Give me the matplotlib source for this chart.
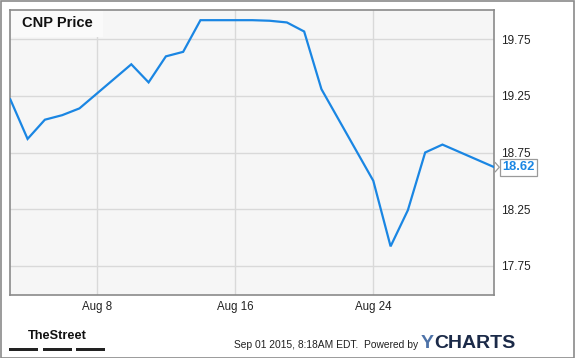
import matplotlib
matplotlib.use("Agg")
import matplotlib.pyplot as plt
import matplotlib.dates as mdates
import numpy as np
from matplotlib.patches import Rectangle

plt.rcParams["font.family"] = ["Liberation Sans", "DejaVu Sans"]

# CNP closing prices, Aug 2015
dates = ["2015-08-03", "2015-08-04", "2015-08-05", "2015-08-06", "2015-08-07",
         "2015-08-10", "2015-08-11", "2015-08-12", "2015-08-13", "2015-08-14",
         "2015-08-17", "2015-08-18", "2015-08-19", "2015-08-20", "2015-08-21",
         "2015-08-24", "2015-08-25", "2015-08-26", "2015-08-27", "2015-08-28",
         "2015-08-31"]
prices = [19.22, 18.87, 19.04, 19.08, 19.14,
          19.53, 19.37, 19.60, 19.64, 19.92,
          19.92, 19.915, 19.90, 19.82, 19.31,
          18.50, 17.92, 18.24, 18.75, 18.82,
          18.62]
y_ticks = [17.75, 18.25, 18.75, 19.25, 19.75]
x_ticks = ["2015-08-08", "2015-08-16", "2015-08-24"]
x_tick_labels = ["Aug 8", "Aug 16", "Aug 24"]
last_label = "18.62"

x = mdates.datestr2num(dates)
xt = mdates.datestr2num(x_ticks)

W, H = 575, 358
fig = plt.figure(figsize=(W / 100, H / 100), dpi=100)
fig.patch.set_facecolor("white")

# outer frame
fig.add_artist(Rectangle((0.5 / W, 0.5 / H), 1 - 1.5 / W, 1 - 1.5 / H,
                         transform=fig.transFigure, fill=False,
                         edgecolor="#8a8a8a", lw=1.2))

left, right, top, bottom = 10.3, 494.3, 10, 295
ax = fig.add_axes([left / W, 1 - bottom / H, (right - left) / W, (bottom - top) / H])
ax.set_facecolor("#f6f6f6")

ax.plot(x, prices, color="#1a86e3", lw=1.6, solid_joinstyle="miter", zorder=3)

ax.set_xlim(mdates.datestr2num("2015-08-03"), mdates.datestr2num("2015-08-31"))
ax.set_ylim(17.49, 20.01)

ax.set_yticks(y_ticks)
ax.set_yticklabels([f"{v:.2f}" for v in y_ticks])
ax.set_xticks(xt)
ax.set_xticklabels(x_tick_labels)
ax.yaxis.tick_right()
ax.tick_params(axis="y", length=0, pad=5, labelsize=8.5, colors="#222222")
ax.tick_params(axis="x", length=0, pad=4, labelsize=8.3, colors="#222222")
ax.grid(True, color="#d9d9d9", lw=1)
ax.set_axisbelow(True)
for s in ax.spines.values():
    s.set_color("#8a8a8a")
    s.set_linewidth(1.2)

# title box
ax.add_patch(Rectangle((0, 1 - 26.5 / (bottom - top)), 93 / (right - left), 26.5 / (bottom - top),
                       transform=ax.transAxes, facecolor="#fafafa", edgecolor="none", zorder=2))
ax.text(11.5 / (right - left), 1 - 13 / (bottom - top), "CNP Price", transform=ax.transAxes,
        fontsize=10.5, fontweight="bold", color="#111111", va="center", ha="left", zorder=4)

# last value label
ax.text(1.0 + 8 / (right - left), prices[-1], last_label, transform=ax.get_yaxis_transform(),
        fontsize=9.3, fontweight="bold", color="#1a86e3", va="center", ha="left", clip_on=False,
        bbox=dict(boxstyle="square,pad=0.18", facecolor="white", edgecolor="#9a9a9a", lw=0.9),
        zorder=5)
ax.plot([1.0 + 1 / (right - left), 1.0 + 5 / (right - left), 1.0 + 1 / (right - left)],
        [prices[-1] + 0.04, prices[-1], prices[-1] - 0.04], transform=ax.get_yaxis_transform(),
        color="#9a9a9a", lw=0.9, clip_on=False, zorder=5)

# footer: TheStreet logo
fig.text(57 / W, 1 - 336 / H, "TheStreet", fontsize=9.2, fontweight="bold",
         color="#111111", ha="center", va="center")
for x0, x1 in [(9, 38), (43, 72), (76, 105)]:
    fig.add_artist(Rectangle((x0 / W, 1 - 351 / H), (x1 - x0) / W, 3 / H,
                             transform=fig.transFigure, facecolor="#222222", edgecolor="none"))

fig.text(418 / W, 1 - 345 / H, "Sep 01 2015, 8:18AM EDT.  Powered by", fontsize=7.4,
         color="#222222", ha="right", va="center")
fig.text(421 / W, 1 - 344 / H, "Y", fontsize=14, fontweight="bold", color="#4d72a8",
         ha="left", va="center")
fig.text(434 / W, 1 - 344 / H, "CHARTS", fontsize=14, fontweight="bold", color="#1b2a48",
         ha="left", va="center")

fig.savefig("out.png", dpi=100)
